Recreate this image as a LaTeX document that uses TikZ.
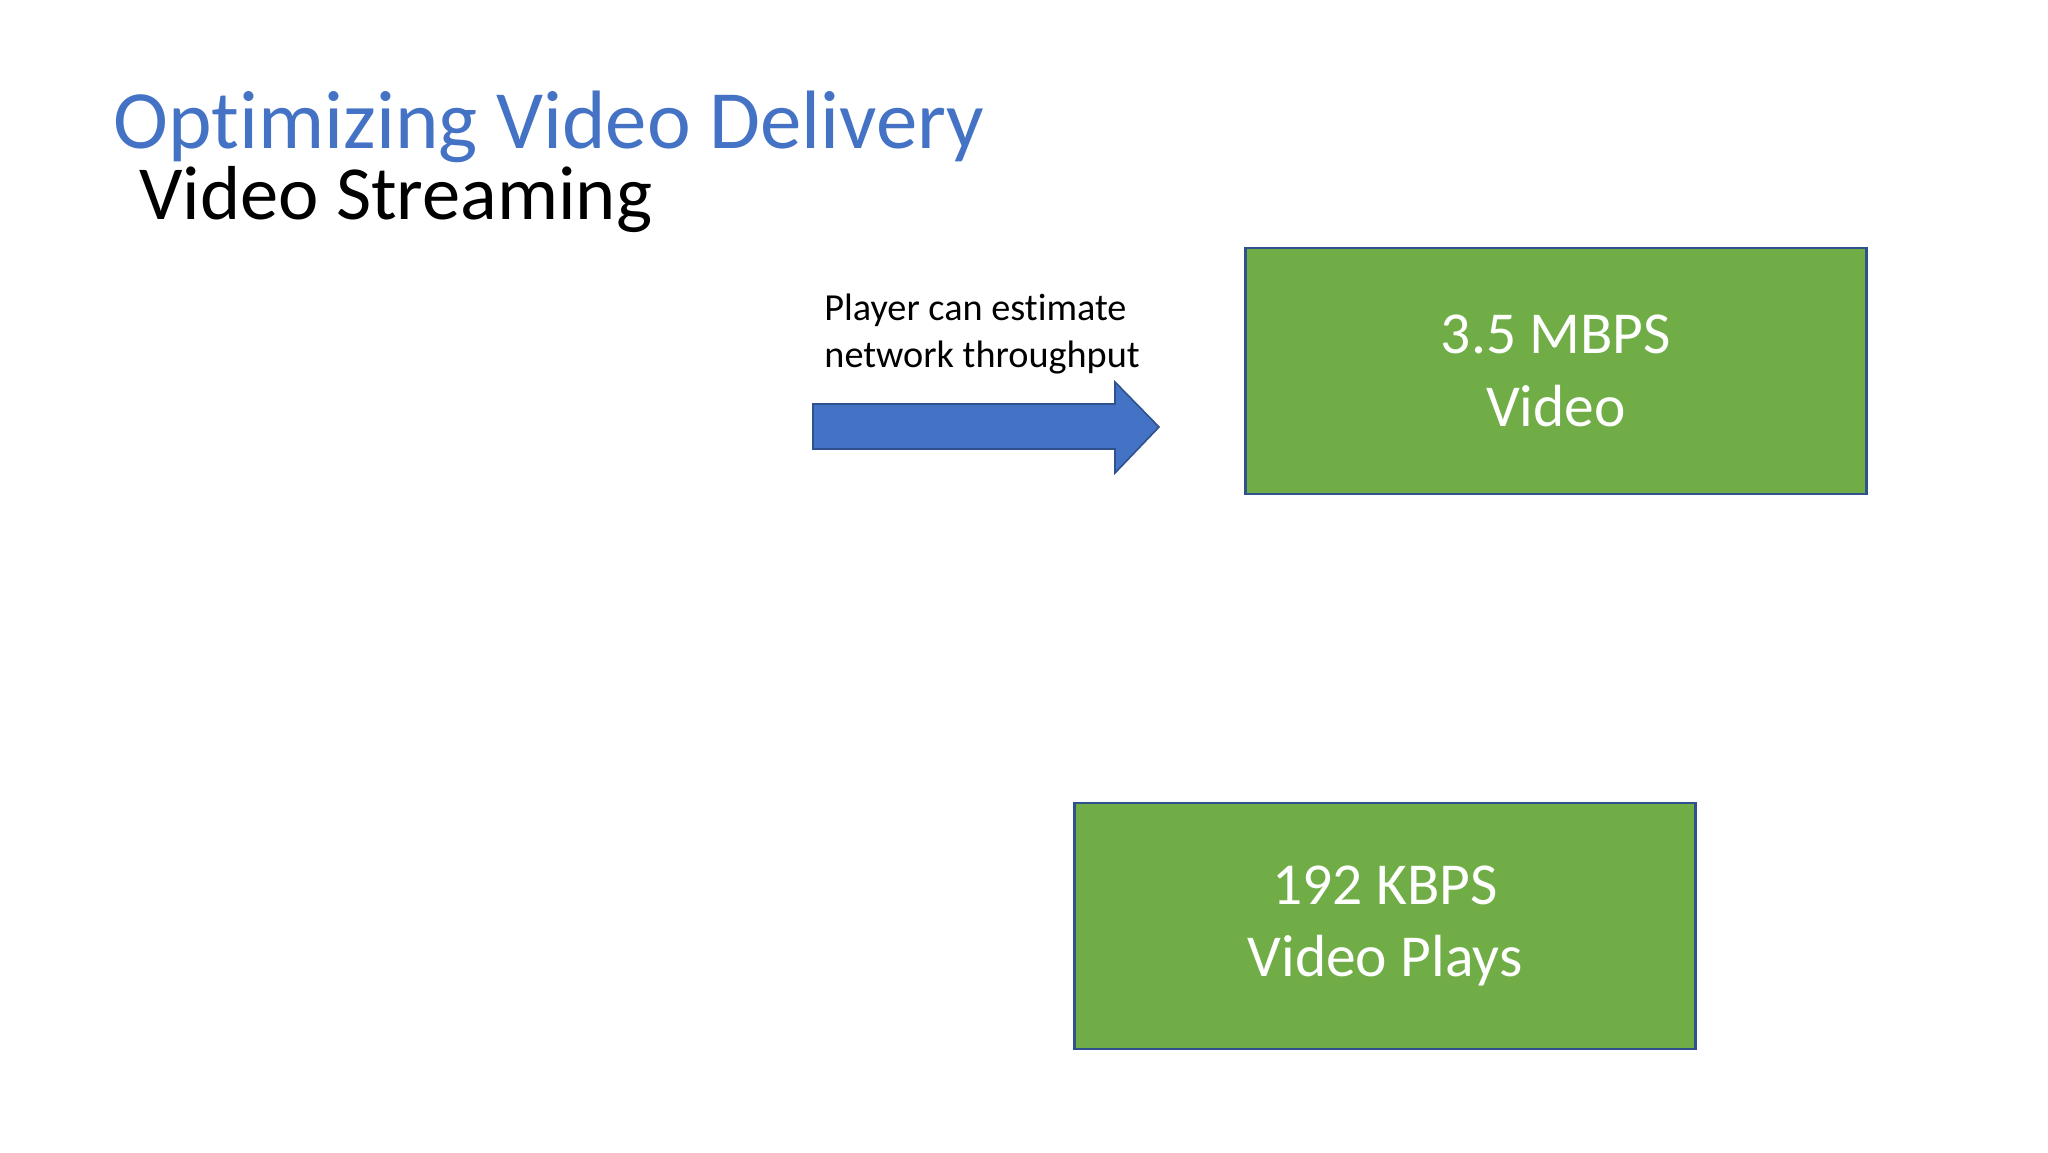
\documentclass[tikz,border=0pt]{standalone}
\usepackage{fontspec}
\setmainfont{Carlito}[Ligatures=NoCommon]
\usepackage{tikz}
\usetikzlibrary{positioning,shapes,arrows.meta}
\definecolor{titleblue}{HTML}{4472C4}
\definecolor{edgeblue}{HTML}{2F528F}
\definecolor{boxgreen}{HTML}{70AD47}
\tikzstyle{rate}=[%
      rectangle, draw=edgeblue, line width=1pt, fill=boxgreen, text=white,
      minimum width=10.27cm, minimum height=4.08cm, inner sep=0pt, align=center,
      font=\fontsize{28}{34}\selectfont
]
\tikzstyle{heading}=[%
      anchor=base west, inner sep=0pt
]
\tikzstyle{blockarrow}=[%
      draw=edgeblue, line width=0.75pt, fill=titleblue
]

\begin{document}
\begin{tikzpicture}[x=0.016537cm, y=-0.016537cm]
    \useasboundingbox[fill=white] (0,0) rectangle (2048,1152);

    \node[heading, text=titleblue, font=\fontsize{39}{47}\selectfont] (title)    at (113,148) {Optimizing Video Delivery};
    \node[heading, font=\fontsize{36}{43}\selectfont]                 (subtitle) at (139,219) {Video Streaming};

    \node[rate] (high) at (1556,371) {3.5 MBPS\\Video};
    \node[rate] (low)  at (1385,926) {192 KBPS\\Video Plays};

    \node[heading, align=left, font=\fontsize{18}{22}\selectfont] (note) at (824,367) {Player can estimate\\network throughput};

    % block arrow
    \draw[blockarrow] (813,404) -- (1115,404) -- (1115,382) -- (1159,427)
          -- (1115,473) -- (1115,449) -- (813,449) -- cycle;
\end{tikzpicture}
\end{document}
